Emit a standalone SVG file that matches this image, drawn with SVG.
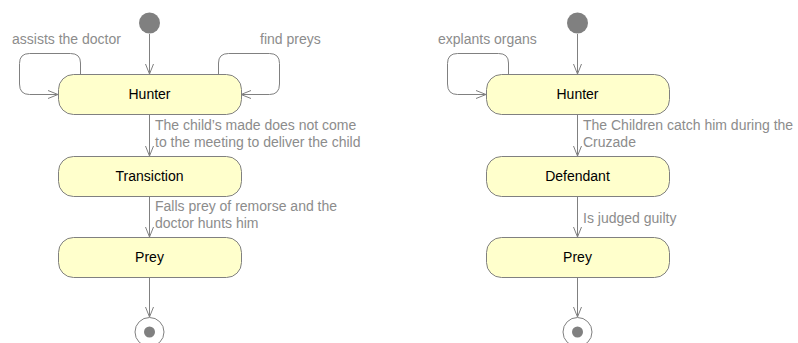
<svg xmlns="http://www.w3.org/2000/svg" width="798" height="343" viewBox="0 0 798 343">
<defs>
<style>
.node rect{fill:#ffffcc;stroke:#808080;stroke-width:1}
.node text{font-family:"Liberation Sans",Arial,sans-serif;font-size:14px;fill:#000;text-anchor:middle}
.init{fill:#808080}
.fin-o{fill:#fff;stroke:#808080;stroke-width:1}
.fin-i{fill:#808080}
.edge{fill:none;stroke:#808080;stroke-width:1;marker-end:url(#arr)}
.lbl{font-family:"Liberation Sans",Arial,sans-serif;font-size:14px;fill:#8c8c8c}
</style>
<marker id="arr" viewBox="0 0 10 10" refX="10" refY="5" markerWidth="10" markerHeight="10" markerUnits="userSpaceOnUse" orient="auto">
<path d="M0,1 L10,5 L0,9" fill="none" stroke="#808080" stroke-width="1"/>
</marker>
</defs>
<rect width="798" height="343" fill="#fff"/>
<g id="connectors">
<path class="edge" d="M149.5,34 V74"/>
<path class="edge" d="M149.5,115 V156"/>
<path class="edge" d="M149.5,196 V237"/>
<path class="edge" d="M149.5,277 V317"/>
<path class="edge" d="M80.5,74 V63 Q80.5,53.5 70.5,53.5 H29.5 Q19.5,53.5 19.5,63.5 V84 Q19.5,94.5 29.5,94.5 H58"/>
<path class="edge" d="M218.5,74 V63 Q218.5,53.5 228.5,53.5 H269.5 Q279.5,53.5 279.5,63.5 V84 Q279.5,94.5 269.5,94.5 H241"/>
<path class="edge" d="M577.5,34 V74"/>
<path class="edge" d="M577.5,115 V156"/>
<path class="edge" d="M577.5,196 V237"/>
<path class="edge" d="M577.5,277 V317"/>
<path class="edge" d="M508.5,74 V63 Q508.5,53.5 498.5,53.5 H457.5 Q447.5,53.5 447.5,63.5 V84 Q447.5,94.5 457.5,94.5 H486"/>
<text class="lbl" x="12" y="44">assists the doctor</text>
<text class="lbl" x="260" y="44">find preys</text>
<text class="lbl" x="155" y="130">The child’s made does not come</text>
<text class="lbl" x="155" y="147">to the meeting to deliver the child</text>
<text class="lbl" x="155" y="211">Falls prey of remorse and the</text>
<text class="lbl" x="155" y="228">doctor hunts him</text>
<text class="lbl" x="438" y="44">explants organs</text>
<text class="lbl" x="583" y="130">The Children catch him during the</text>
<text class="lbl" x="583" y="147">Cruzade</text>
<text class="lbl" x="583" y="223">Is judged guilty</text>
</g>
<g id="init1"><circle class="init" cx="149.5" cy="23" r="10.5"/></g>
<g id="hunter1" class="node"><rect x="58.5" y="74.5" width="183" height="40" rx="15"/><text x="149.5" y="99">Hunter</text></g>
<g id="transiction" class="node"><rect x="58.5" y="156.5" width="183" height="40" rx="15"/><text x="149.5" y="181">Transiction</text></g>
<g id="prey1" class="node"><rect x="58.5" y="237.5" width="183" height="40" rx="15"/><text x="149.5" y="262">Prey</text></g>
<g id="final1"><circle class="fin-o" cx="149.5" cy="332" r="14.5"/><circle class="fin-i" cx="149.5" cy="332" r="5.5"/></g>
<g id="init2"><circle class="init" cx="577.5" cy="23" r="10.5"/></g>
<g id="hunter2" class="node"><rect x="486.5" y="74.5" width="183" height="40" rx="15"/><text x="577.5" y="99">Hunter</text></g>
<g id="defendant" class="node"><rect x="486.5" y="156.5" width="183" height="40" rx="15"/><text x="577.5" y="181">Defendant</text></g>
<g id="prey2" class="node"><rect x="486.5" y="237.5" width="183" height="40" rx="15"/><text x="577.5" y="262">Prey</text></g>
<g id="final2"><circle class="fin-o" cx="577.5" cy="332" r="14.5"/><circle class="fin-i" cx="577.5" cy="332" r="5.5"/></g>
</svg>
